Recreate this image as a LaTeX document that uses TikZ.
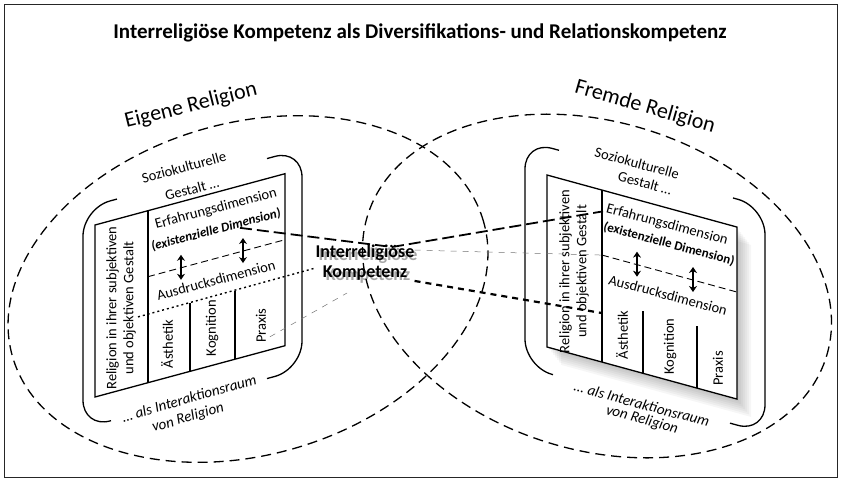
\documentclass[tikz,border=0pt]{standalone}
\usepackage{fontspec}
\setmainfont{Carlito}
\usetikzlibrary{arrows.meta}

\begin{document}
\begin{tikzpicture}[x=1pt,y=1pt,
    religion/.style={dash pattern=on 10pt off 6pt, line width=1.3pt},
    klammer/.style={line width=1.3pt, rounded corners=28pt},
    tafel/.style={line width=1.3pt},
    trenner/.style={dash pattern=on 7pt off 4pt, line width=0.9pt},
    langstrich/.style={dash pattern=on 12pt off 5pt, line width=1.8pt},
    kurzstrich/.style={dash pattern=on 6pt off 5pt, line width=2.2pt},
    punkte/.style={dash pattern=on 2pt off 3pt, line width=1.4pt},
    fein/.style={dash pattern=on 6pt off 6pt, line width=0.5pt, black!55},
    pfeil/.style={{Stealth[length=6pt,width=8pt]}-{Stealth[length=6pt,width=8pt]}, line width=2.2pt},
    schrift/.style={font=\fontsize{14.5}{17}\selectfont, inner sep=0pt},
    spalte/.style={font=\fontsize{14.5}{17}\selectfont, inner sep=0pt, rotate=90, anchor=west},
    kursiv/.style={font=\fontsize{15}{17}\selectfont\itshape, inner sep=0pt},
    gross/.style={font=\fontsize{22}{24}\selectfont, inner sep=0pt},
    kern/.style={font=\bfseries\fontsize{18}{20}\selectfont, align=center, inner sep=0pt}]
\useasboundingbox (0,0) rectangle (841,-480);
\draw[line width=1pt, black!85] (4,-4) rectangle (837,-477);
\node[font=\bfseries\fontsize{21}{24}\selectfont] (titel) at (420,-33)
  {Interreligiöse Kompetenz als Diversifikations- und Relationskompetenz};

% eigene und fremde Religion
\draw[religion, rotate around={16:(248,-289)}] (248,-289) ellipse [x radius=245, y radius=166];
\draw[religion, rotate around={-17:(597,-286)}] (597,-286) ellipse [x radius=240, y radius=164];
\node[gross, rotate=14] (eigene) at (191,-106) {Eigene Religion};
\node[gross, rotate=-16] (fremde) at (645,-107) {Fremde Religion};

% linke Tafel
\begin{scope}[shift={(95,-225)}, yslant=0.27]
  \draw[klammer] (22,20) -- (-12,20) -- (-12,-200) -- (16,-200);
  \draw[klammer] (172,20) -- (207,20) -- (207,-200) -- (172,-200);
  \draw[tafel] (0,0) rectangle (190,-172);
  \draw[tafel] (53,0) -- (53,-172) (95,-103.5) -- (95,-172) (140,-103.5) -- (140,-172);
  \draw[trenner] (53,-66) -- (190,-66);
  \draw[pfeil] (86,-53) -- (86,-78);
  \draw[pfeil] (148,-53) -- (148,-78);
  \node[spalte, anchor=center, align=center] (l-religion) at (26,-90) {Religion in ihrer subjektiven\\und objektiven Gestalt};
  \node[spalte] (l-aesthetik) at (72,-163) {Ästhetik};
  \node[spalte] (l-kognition) at (117,-163) {Kognition};
  \node[spalte] (l-praxis) at (166,-163) {Praxis};
  \coordinate (l-erf) at (145,-42);
  \coordinate (l-punkt) at (43,-103.5);
  \coordinate (l-fein) at (175,-159);
\end{scope}
\node[schrift, rotate=15] (l-sozio) at (184,-167) {Soziokulturelle};
\node[schrift, rotate=15] (l-gestalt) at (192,-189) {Gestalt \dots};
\node[schrift, rotate=15] (l-erfahrung) at (216,-209) {Erfahrungsdimension};
\node[schrift, font=\fontsize{13}{15}\selectfont\bfseries\itshape, rotate=15] (l-existenz) at (216,-230) {(existenzielle Dimension)};
\node[schrift, rotate=15] (l-ausdruck) at (216,-280) {Ausdrucksdimension};
\node[kursiv, rotate=16] (l-raum) at (189,-398) {\dots\ als Interaktionsraum};
\node[kursiv, rotate=16] (l-von) at (188,-418) {von Religion};

% rechte Tafel
\begin{scope}[shift={(547,-175)}, yslant=-0.274]
  \foreach \s in {2,4,...,14}
    \fill[black, opacity=0.035] (\s,-\s) rectangle (190+\s,-172-\s);
  \draw[klammer] (12,28) -- (-22,28) -- (-22,-198) -- (6,-198);
  \draw[klammer] (186,28) -- (218,28) -- (218,-198) -- (183,-198);
  \filldraw[tafel, fill=white] (0,0) rectangle (190,-172);
  \draw[tafel] (55,0) -- (55,-172) (96,-110) -- (96,-172) (150,-110) -- (150,-172);
  \draw[trenner] (55,-65) -- (190,-65);
  \draw[pfeil] (90,-52) -- (90,-77);
  \draw[pfeil] (146,-52) -- (146,-77);
  \node[spalte, anchor=center, align=center] (r-religion) at (27,-89) {Religion in ihrer subjektiven\\und objektiven Gestalt};
  \node[spalte] (r-aesthetik) at (75,-164) {Ästhetik};
  \node[spalte] (r-kognition) at (123,-166) {Kognition};
  \node[spalte] (r-praxis) at (171,-164) {Praxis};
  \coordinate (r-erf) at (56,-21);
  \coordinate (r-kurz) at (55,-123);
  \coordinate (r-trenner) at (55,-65);
\end{scope}
\node[schrift, rotate=-15] (r-sozio) at (637,-163) {Soziokulturelle};
\node[schrift, rotate=-15] (r-gestalt) at (645,-183) {Gestalt \dots};
\node[schrift, rotate=-15] (r-erfahrung) at (667,-225) {Erfahrungsdimension};
\node[schrift, font=\fontsize{13}{15}\selectfont\bfseries, rotate=-15] (r-existenz) at (669,-244) {(existenzielle Dimension)};
\node[schrift, rotate=-15] (r-ausdruck) at (668,-295) {Ausdrucksdimension};
\node[kursiv, rotate=-15] (r-raum) at (642,-404) {\dots\ als Interaktionsraum};
\node[kursiv, rotate=-15] (r-von) at (642,-420) {von Religion};

% Kompetenz in der Mitte
\node[kern, text opacity=0] (kompetenz) at (365,-263) {Interreligiöse\\Kompetenz};
\coordinate (knick) at (392,-247);
\coordinate (unten) at (347,-293);

\path[langstrich] (l-erf) edge (knick) (knick) edge (r-erf);
\path[punkte] (l-punkt) edge ([yshift=-5pt]kompetenz.west);
\path[fein] (l-fein) edge (unten)
  ([yshift=-5pt]kompetenz.north east) edge (r-trenner);
\path[kurzstrich] (kompetenz.south east) edge (r-kurz);

\node[kern, opacity=0.35] (schatten) at (368,-266) {Interreligiöse\\Kompetenz};
\node[kern] at (kompetenz) {Interreligiöse\\Kompetenz};
\end{tikzpicture}
\end{document}
